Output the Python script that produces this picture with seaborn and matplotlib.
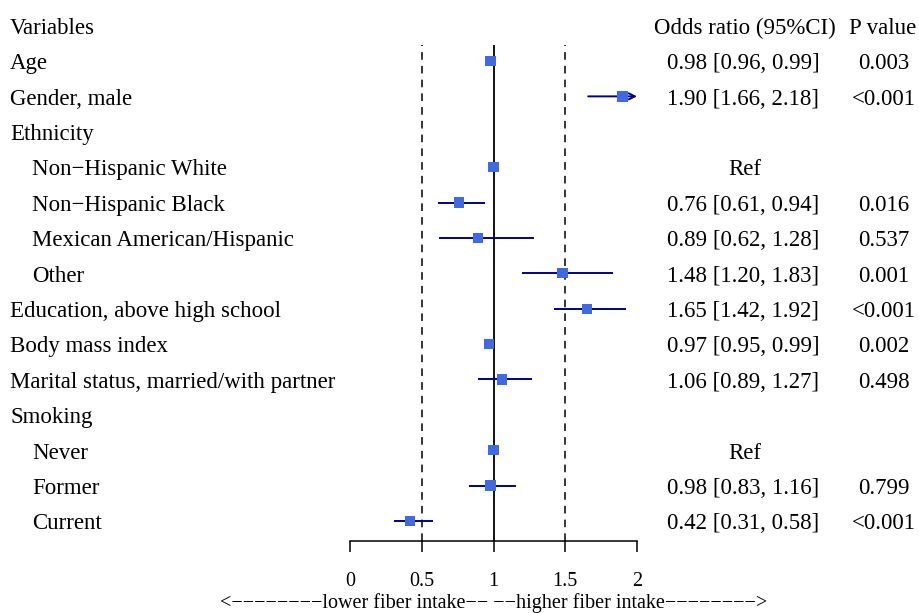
import numpy as np
import pandas as pd
import matplotlib
matplotlib.use("Agg")
import matplotlib.pyplot as plt
import matplotlib.transforms as mtransforms
import seaborn as sns

# ---- data ----
variables = [
    "Age", "Gender, male", "Ethnicity", "Non\u2212Hispanic White", "Non\u2212Hispanic Black",
    "Mexican American/Hispanic", "Other", "Education, above high school", "Body mass index",
    "Marital status, married/with partner", "Smoking", "Never", "Former", "Current",
]
indent = [0, 0, 0, 1, 1, 1, 1, 0, 0, 0, 0, 1, 1, 1]
odds = [0.98, 1.90, np.nan, 1.00, 0.76, 0.89, 1.48, 1.65, 0.97, 1.06, np.nan, 1.00, 0.98, 0.42]
ci_low = [0.96, 1.66, np.nan, np.nan, 0.61, 0.62, 1.20, 1.42, 0.95, 0.89, np.nan, np.nan, 0.83, 0.31]
ci_high = [0.99, 2.18, np.nan, np.nan, 0.94, 1.28, 1.83, 1.92, 0.99, 1.27, np.nan, np.nan, 1.16, 0.58]
is_ref = [False, False, False, True, False, False, False, False, False, False, False, True, False, False]
p_values = ["0.003", "<0.001", "", "", "0.016", "0.537", "0.001", "<0.001", "0.002", "0.498",
            "", "", "0.799", "<0.001"]
x_ticks = [0, 0.5, 1, 1.5, 2]
x_ticklabels = ["0", "0.5", "1", "1.5", "2"]

BOX = "royalblue"
LINE = "darkblue"
W, H = 919, 613

sns.set_style("white")
plt.rcParams["font.family"] = ["Liberation Serif", "DejaVu Serif"]
plt.rcParams["text.color"] = "black"
plt.rcParams["xtick.color"] = "black"
plt.rcParams["xtick.labelcolor"] = "black"

df = pd.DataFrame({"var": variables, "indent": indent, "OR": odds,
                   "lo": ci_low, "hi": ci_high, "ref": is_ref, "p": p_values})
df["row"] = np.arange(1, len(df) + 1)

fig = plt.figure(figsize=(W / 100, H / 100), dpi=100)
ax = fig.add_axes([350 / W, 72 / H, 287 / W, 496 / H])
ax.set_xlim(0, 2)
ax.set_ylim(14.567, 0.548)

# reference lines
ax.axvline(1, color="black", lw=1.3, zorder=1)
for v in (0.5, 1.5):
    ax.axvline(v, color="black", lw=1.1, ls=(0, (5, 4)), zorder=1)

# confidence intervals
ci = df.dropna(subset=["lo"])
inside = ci[ci["hi"] <= 2]
ax.hlines(inside["row"], inside["lo"], inside["hi"], color=LINE, lw=1.4, zorder=2)
for _, r in ci[ci["hi"] > 2].iterrows():
    ax.annotate("", xy=(2.0, r["row"]), xytext=(r["lo"], r["row"]),
                arrowprops=dict(arrowstyle="->", color=LINE, lw=1.4,
                                shrinkA=0, shrinkB=0, mutation_scale=11),
                zorder=2)

# point estimates
pts = df.dropna(subset=["OR"])
sns.scatterplot(data=pts, x="OR", y="row", marker="s", s=55, color=BOX,
                edgecolor="none", ax=ax, zorder=3, legend=False)

ax.set_yticks([])
ax.set_xticks(x_ticks)
ax.set_xticklabels(x_ticklabels, fontsize=14.5)
ax.tick_params(axis="x", bottom=True, direction="out", length=8, width=1.1, pad=14,
               color="black", labelcolor="black")
ax.set_xlabel("")
ax.set_ylabel("")
sns.despine(ax=ax, left=True)
ax.spines["bottom"].set_linewidth(1.1)
ax.spines["bottom"].set_color("black")

# text columns
trans = mtransforms.blended_transform_factory(fig.transFigure, ax.transData)
fs = 16.5
dy = 0.08  # nudge text down slightly to sit level with the boxes
ax.text(10 / W, dy, "Variables", transform=trans, fontsize=fs, va="center", ha="left")
ax.text(745 / W, dy, "Odds ratio (95%CI)", transform=trans, fontsize=fs, va="center", ha="center")
ax.text(883 / W, dy, "P value", transform=trans, fontsize=fs, va="center", ha="center")
for _, r in df.iterrows():
    x0 = 10 if r["indent"] == 0 else 32
    y = r["row"] + dy
    ax.text(x0 / W, y, r["var"], transform=trans, fontsize=fs, va="center", ha="left")
    if r["ref"]:
        ax.text(745 / W, y, "Ref", transform=trans, fontsize=fs, va="center", ha="center")
    elif not np.isnan(r["OR"]):
        s = f"{r['OR']:.2f} [{r['lo']:.2f}, {r['hi']:.2f}]"
        ax.text(743 / W, y, s, transform=trans, fontsize=fs, va="center", ha="center")
    if r["p"]:
        ax.text(884 / W, y, r["p"], transform=trans, fontsize=fs, va="center", ha="center")

dash = "\u2212"
fig.text(494 / W, 1 - 603 / H,
         "<" + dash * 8 + "lower fiber intake" + dash * 2 + " " + dash * 2
         + "higher fiber intake" + dash * 8 + ">",
         fontsize=14.5, ha="center", va="center")

fig.savefig("out.png", dpi=100)
